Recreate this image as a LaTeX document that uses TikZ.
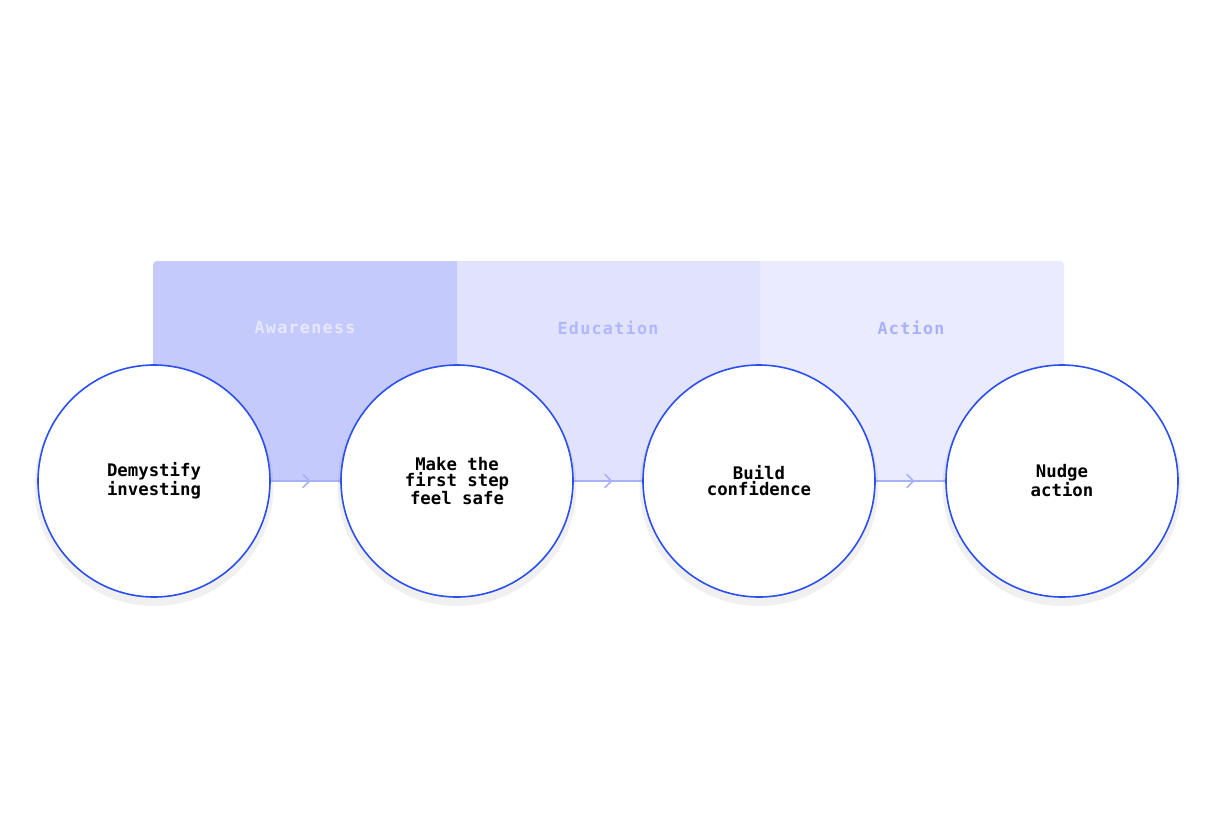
\documentclass[tikz,border=0pt]{standalone}
\usepackage{fontspec}
\setmonofont{DejaVu Sans Mono}
\newfontfamily\lblfont[LetterSpace=8]{DejaVu Sans Mono}
\usetikzlibrary{shadows}
\definecolor{pA}{HTML}{C5CAFC}
\definecolor{pB}{HTML}{E1E3FD}
\definecolor{pC}{HTML}{EAEBFE}
\definecolor{tA}{HTML}{E6E8FE}
\definecolor{tB}{HTML}{B0B7FB}
\definecolor{tC}{HTML}{A8B0FA}
\definecolor{ring}{HTML}{2B4EF0}
\definecolor{conn}{HTML}{A9B0FA}
\tikzset{
  stage/.style={circle, draw=ring, line width=1.2pt, fill=white, minimum size=174pt, inner sep=0pt, align=center, font=\ttfamily\bfseries\fontsize{13}{12}\selectfont, drop shadow={opacity=0.12, shadow xshift=0pt, shadow yshift=-4pt, shadow scale=1.03}},
  phase/.style={font=\lblfont\bfseries\fontsize{12.5}{14}\selectfont},
  link/.style={draw=conn, line width=1.3pt},
  chev/.style={draw=conn, line width=1.3pt, line cap=round, line join=round}
}
\begin{document}
\begin{tikzpicture}[x=0.75pt,y=-0.75pt]
\useasboundingbox (0,0) rectangle (1216,832);
\fill[pC, rounded corners=3pt] (760,261) rectangle (1064,481);
\fill[pC] (760,261) rectangle (900,481);
\fill[pB] (457,261) rectangle (760,481);
\fill[pA, rounded corners=3pt] (153,261) rectangle (457,481);
\fill[pA] (300,261) rectangle (457,481);
\node[phase, text=tA] (la) at (305,328) {Awareness};
\node[phase, text=tB] (lb) at (608,328) {Education};
\node[phase, text=tC] (lc) at (911,328) {Action};
\coordinate (m1) at (307,481);
\coordinate (m2) at (609,481);
\coordinate (m3) at (911,481);
\draw[link] (154,481) -- (1062,481);
\foreach \m in {m1,m2,m3}{\draw[chev] ([shift={(-4,-6.5)}]\m) -- ([shift={(2.5,0)}]\m) -- ([shift={(-4,6.5)}]\m);}
\node[stage] (s1) at (154,481) {Demystify\\investing};
\node[stage] (s2) at (457,481) {Make the\\first step\\feel safe};
\node[stage] (s3) at (759,481) {Build\\confidence};
\node[stage] (s4) at (1062,481) {Nudge\\action};
\end{tikzpicture}
\end{document}
